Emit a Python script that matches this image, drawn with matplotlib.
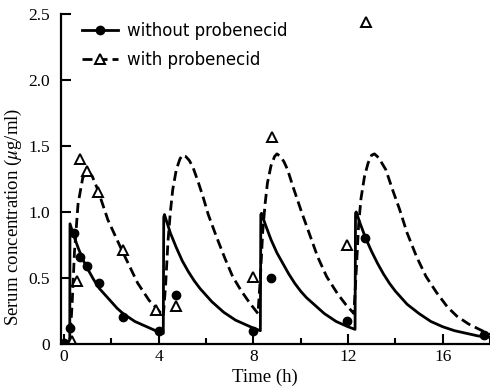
import numpy as np
import matplotlib
matplotlib.use("Agg")
import matplotlib.pyplot as plt
from matplotlib.legend_handler import HandlerLine2D

# measured points, without probenecid (filled circles)
t_without = [0.0, 0.25, 0.42, 0.68, 0.97, 1.5, 2.5, 4.0, 4.75, 8.0, 8.75, 11.95, 12.7, 17.75]
c_without = [0.01, 0.12, 0.84, 0.66, 0.59, 0.46, 0.2, 0.1, 0.37, 0.1, 0.5, 0.17, 0.8, 0.07]

# measured points, with probenecid (open triangles)
t_with = [0.33, 0.54, 0.68, 0.96, 1.45, 2.5, 3.9, 4.75, 8.0, 8.8, 11.95, 12.75]
c_with = [0.02, 0.48, 1.4, 1.31, 1.15, 0.71, 0.26, 0.29, 0.51, 1.57, 0.75, 2.44]

# fitted curve, without probenecid (solid)
fit_t_without = [0.0, 0.25, 0.26, 0.4, 0.6, 0.8, 1.0, 1.25, 1.5, 1.75, 2.0, 2.25, 2.5, 2.75,
                 3.0, 3.25, 3.5, 3.75, 4.0, 4.2,
                 4.22, 4.25, 4.5, 4.75, 5.0, 5.25, 5.5, 5.75, 6.0, 6.25, 6.5, 6.75, 7.0,
                 7.25, 7.5, 7.75, 8.0, 8.3,
                 8.32, 8.35, 8.5, 8.75, 9.0, 9.25, 9.5, 9.75, 10.0, 10.25, 10.5, 10.75,
                 11.0, 11.25, 11.5, 11.75, 12.0, 12.3,
                 12.32, 12.35, 12.5, 12.75, 13.0, 13.25, 13.5, 13.75, 14.0, 14.5, 15.0,
                 15.5, 16.0, 16.5, 17.0, 17.5, 18.0]
fit_c_without = [0.0, 0.0, 0.91, 0.83, 0.73, 0.64, 0.57, 0.49, 0.42, 0.37, 0.32, 0.27, 0.23, 0.2,
                 0.17, 0.15, 0.13, 0.11, 0.09, 0.08,
                 0.96, 0.98, 0.84, 0.73, 0.63, 0.55, 0.48, 0.42, 0.37, 0.32, 0.28, 0.24, 0.21,
                 0.18, 0.16, 0.14, 0.12, 0.1,
                 0.98, 0.99, 0.91, 0.79, 0.69, 0.61, 0.53, 0.46, 0.4, 0.35, 0.31, 0.27,
                 0.23, 0.2, 0.17, 0.15, 0.13, 0.11,
                 0.99, 1.0, 0.92, 0.8, 0.7, 0.61, 0.53, 0.46, 0.4, 0.3, 0.23,
                 0.17, 0.13, 0.1, 0.08, 0.06, 0.05]

# fitted curve, with probenecid (dashed)
fit_t_with = [0.0, 0.25, 0.35, 0.45, 0.6, 0.8, 1.0, 1.2, 1.43, 1.86, 2.45, 3.12, 3.6, 3.97, 4.2,
              4.3, 4.4, 4.5, 4.6, 4.75, 4.9, 5.0, 5.15, 5.3, 5.45, 5.65, 5.87, 6.1, 6.45, 6.8,
              7.13, 7.5, 7.85, 8.2,
              8.3, 8.4, 8.5, 8.6, 8.75, 8.9, 9.0, 9.15, 9.3, 9.45, 9.7, 10.04, 10.4, 10.72,
              11.1, 11.56, 11.9, 12.25,
              12.35, 12.45, 12.55, 12.7, 12.85, 13.0, 13.12, 13.3, 13.6, 13.9, 14.18, 14.5,
              14.9, 15.3, 15.74, 16.2, 16.6, 17.1, 17.55, 18.0]
fit_c_with = [0.0, 0.02, 0.3, 0.7, 1.06, 1.26, 1.31, 1.27, 1.17, 0.94, 0.71, 0.46, 0.33, 0.26, 0.21,
              0.45, 0.78, 1.0, 1.17, 1.32, 1.4, 1.43, 1.42, 1.39, 1.34, 1.24, 1.12, 0.98, 0.81, 0.65,
              0.51, 0.4, 0.31, 0.23,
              0.5, 0.85, 1.06, 1.22, 1.35, 1.42, 1.44, 1.42, 1.38, 1.32, 1.18, 1.0, 0.82, 0.66,
              0.51, 0.38, 0.3, 0.23,
              0.55, 0.9, 1.1, 1.27, 1.37, 1.43, 1.44, 1.41, 1.32, 1.16, 1.02, 0.84,
              0.66, 0.51, 0.39, 0.28, 0.21, 0.15, 0.11, 0.07]

x_ticks = [0, 4, 8, 12, 16]
x_minor = [2, 6, 10, 14, 18]
y_ticks = [0, 0.5, 1.0, 1.5, 2.0, 2.5]
y_ticklabels = ["0", "0.5", "1.0", "1.5", "2.0", "2.5"]


class MarkerLeft(HandlerLine2D):
    # put the legend marker at the left end of the line, as in the original
    def get_xdata(self, legend, xdescent, ydescent, width, height, fontsize):
        xdata = np.array([-xdescent, -xdescent + width])
        return xdata, np.array([-xdescent])


serif = "Liberation Serif"
plt.rcParams["mathtext.fontset"] = "stix"

fig = plt.figure(figsize=(4.9, 3.89), dpi=100)
ax = fig.add_axes([0.124, 0.116, 0.876, 0.848])

ax.plot(fit_t_without, fit_c_without, color="black", linewidth=2.0)
ax.plot(fit_t_with, fit_c_with, color="black", linewidth=2.0, dashes=(3.6, 1.8))
ax.plot(t_without, c_without, "o", color="black", markersize=6)
ax.plot(t_with, c_with, "^", markerfacecolor="white", markeredgecolor="black",
        markersize=7, markeredgewidth=1.4)

h1, = ax.plot([], [], color="black", linewidth=2.0, marker="o", markersize=6)
h2, = ax.plot([], [], color="black", linewidth=2.0, dashes=(3.6, 1.8), marker="^",
              markerfacecolor="white", markeredgecolor="black", markersize=7, markeredgewidth=1.4)
ax.legend([h1, h2], ["without probenecid", "with probenecid"],
          handler_map={h1: MarkerLeft(), h2: MarkerLeft()},
          loc="upper left", bbox_to_anchor=(0.033, 0.995), frameon=False,
          prop={"family": "DejaVu Sans", "size": 12}, handlelength=2.2,
          handletextpad=0.55, labelspacing=0.62, borderaxespad=0)

ax.set_xlim(-0.13, 18.0)
ax.set_ylim(0, 2.5)
ax.set_xticks(x_ticks)
ax.set_xticks(x_minor, minor=True)
ax.set_yticks(y_ticks)
ax.set_yticklabels(y_ticklabels)
for lab in ax.get_xticklabels() + ax.get_yticklabels():
    lab.set_family(serif)
    lab.set_fontsize(12.5)
ax.tick_params(direction="in", width=1.5, length=7)
ax.tick_params(axis="y", pad=8)
ax.tick_params(which="minor", direction="in", width=1.5, length=4)
ax.spines["top"].set_visible(False)
ax.spines["right"].set_visible(False)
ax.spines["left"].set_linewidth(1.6)
ax.spines["bottom"].set_linewidth(1.6)

ax.set_xlabel("Time (h)", family=serif, fontsize=13.5)
ax.xaxis.set_label_coords(0.475, -0.075)
ax.set_ylabel(r"Serum concentration ($\mu$g/ml)", family=serif, fontsize=13.5)
ax.yaxis.set_label_coords(-0.086, 0.385)

plt.savefig("out.png", dpi=100)
